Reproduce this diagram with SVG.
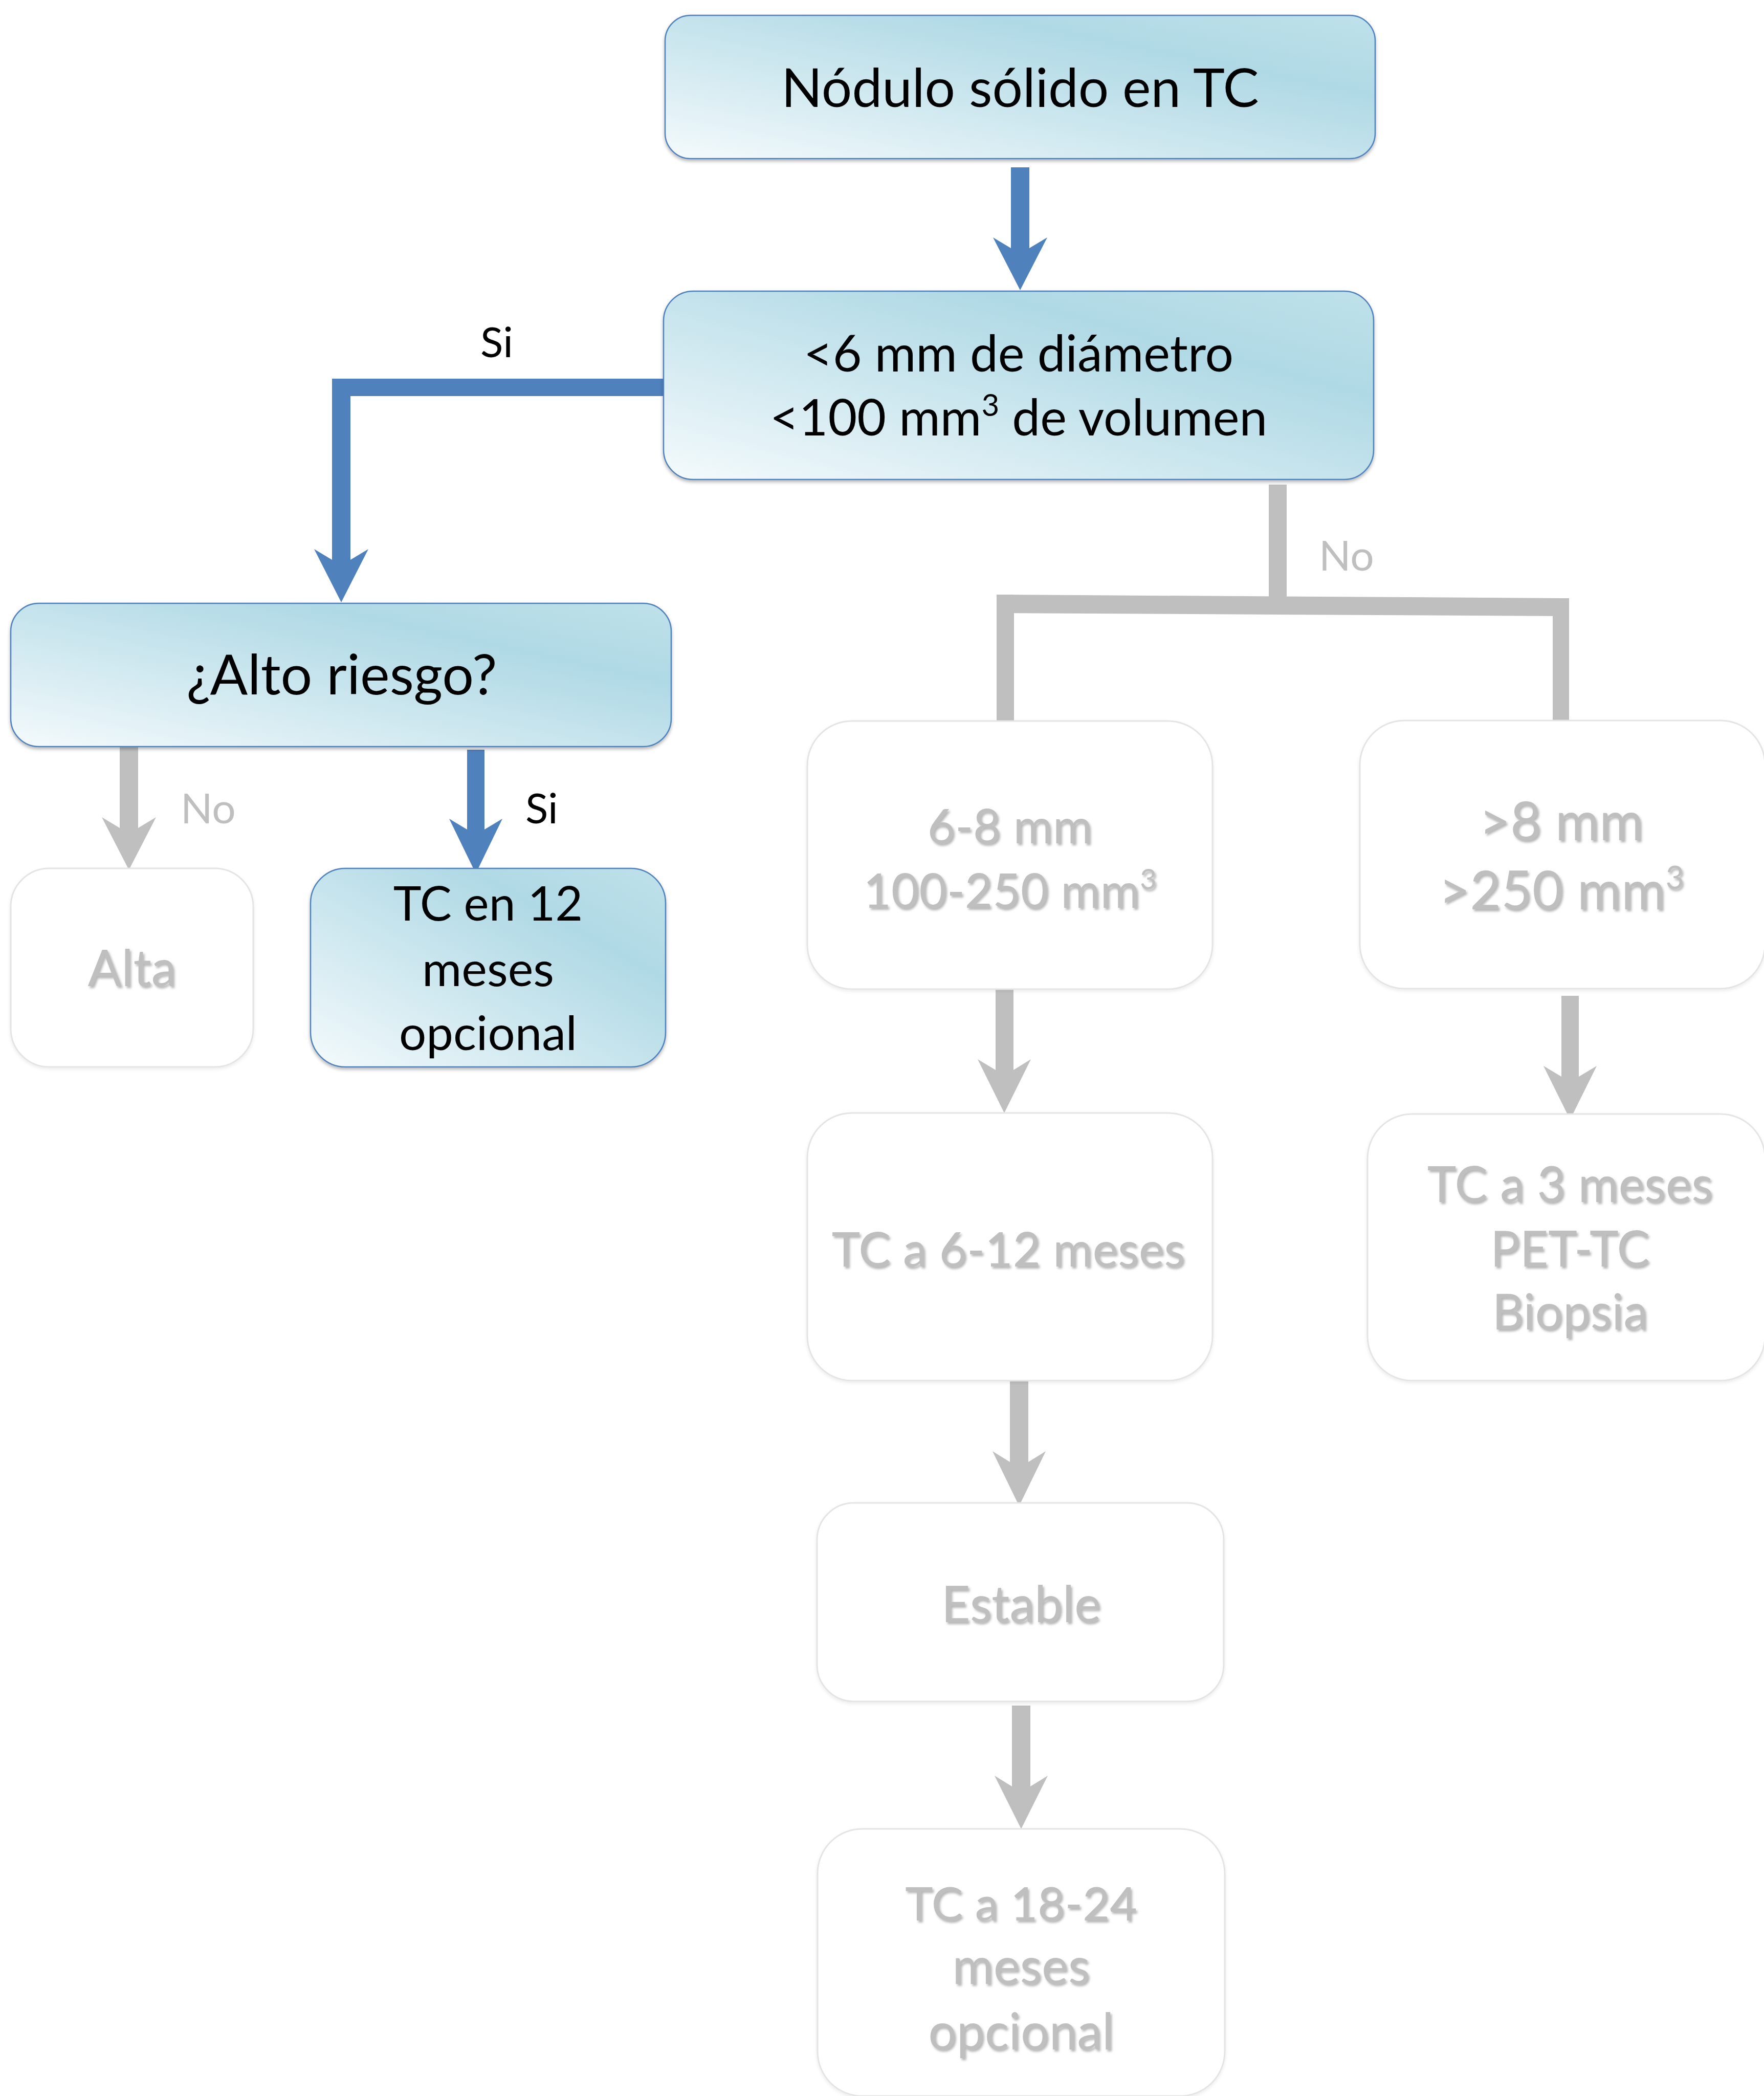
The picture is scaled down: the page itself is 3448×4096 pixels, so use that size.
<svg xmlns="http://www.w3.org/2000/svg" width="3448" height="4096" viewBox="0 0 3448 4096">
  <defs>
    <linearGradient id="blueFill" x1="0" y1="1" x2="1" y2="0">
      <stop offset="0" stop-color="#f4fafc"/>
      <stop offset="0.4" stop-color="#cde7ef"/>
      <stop offset="0.72" stop-color="#afd9e5"/>
      <stop offset="1" stop-color="#bfe1ea"/>
    </linearGradient>
    <filter id="boxShadow" x="-10%" y="-10%" width="120%" height="130%">
      <feDropShadow dx="0" dy="4" stdDeviation="3" flood-color="#000" flood-opacity="0.28"/>
    </filter>
    <filter id="softShadow" x="-10%" y="-10%" width="120%" height="130%">
      <feDropShadow dx="0" dy="3" stdDeviation="3" flood-color="#000" flood-opacity="0.08"/>
    </filter>
    <filter id="textShadow" x="-10%" y="-20%" width="120%" height="150%">
      <feDropShadow dx="3" dy="4" stdDeviation="2" flood-color="#7a7a7a" flood-opacity="0.55"/>
    </filter>
  </defs>
  <style>
    text { font-family: Lato, "Open Sans", "Liberation Sans", sans-serif; }
    .blue-box { fill: url(#blueFill); stroke: #4f81bd; stroke-width: 2.5; filter: url(#boxShadow); }
    .gray-box { fill: #ffffff; stroke: #e4e4e4; stroke-width: 3; filter: url(#softShadow); }
    .dark { fill: #000000; text-anchor: middle; }
    .faded { fill: #bfbfbf; text-anchor: middle; filter: url(#textShadow); }
    .lbl-dark { fill: #000000; font-size: 82px; }
    .lbl-gray { fill: #bfbfbf; font-size: 82px; }
    .blue-line { fill: #4f81bd; }
    .gray-line { fill: #bfbfbf; }
  </style>

  <rect width="3448" height="4096" fill="#ffffff"/>

  <!-- connectors -->
  <g id="connectors">
    <polygon class="blue-line" points="1976,327 2012,327 2012,485 2047,464 1994,567 1941,464 1976,485"/>
    <polygon class="blue-line" points="1300,740 1300,774 685,774 685,1094 720,1073 667,1177 614,1073 649,1094 649,740"/>
    <polygon class="blue-line" points="913,1465 947,1465 947,1621 982,1600 930,1707 878,1600 913,1621"/>
    <polygon class="gray-line" points="234,1460 270,1460 270,1618 305,1597 252,1700 199,1597 234,1618"/>
    <!-- "No" branch: stem, cross bar and two drops -->
    <rect class="gray-line" x="2480" y="947" width="35" height="241"/>
    <polygon class="gray-line" points="1948,1162 3067,1169 3067,1204 1948,1198"/>
    <rect class="gray-line" x="1948" y="1162" width="34" height="247"/>
    <rect class="gray-line" x="3035" y="1169" width="32" height="245"/>
    <polygon class="gray-line" points="1946,1933 1981,1933 1981,2091 2015,2070 1963,2175 1911,2070 1946,2091"/>
    <polygon class="gray-line" points="3052,1946 3086,1946 3086,2104 3121,2083 3069,2188 3017,2083 3052,2104"/>
    <polygon class="gray-line" points="1974,2698 2010,2698 2010,2857 2044,2836 1992,2943 1940,2836 1974,2857"/>
    <polygon class="gray-line" points="1978,3333 2014,3333 2014,3491 2048,3470 1996,3574 1944,3470 1978,3491"/>
    <text class="lbl-dark" x="971" y="698" text-anchor="middle">Si</text>
    <text class="lbl-gray" x="2578" y="1115">No</text>
    <text class="lbl-gray" x="353" y="1609">No</text>
    <text class="lbl-dark" x="1027" y="1609">Si</text>
  </g>

  <g id="node-nodulo">
    <rect class="blue-box" x="1300" y="30" width="1388" height="280" rx="50"/>
    <text class="dark" x="1994" y="209" font-size="105">Nódulo sólido en TC</text>
  </g>

  <g id="node-tamano">
    <rect class="blue-box" x="1297" y="569" width="1388" height="368" rx="58"/>
    <text class="dark" x="1991" y="726" font-size="98">&lt;6 mm de diámetro</text>
    <text class="dark" x="1991" y="851" font-size="98">&lt;100 mm<tspan font-size="60" dy="-38">3</tspan><tspan dy="38"> de volumen</tspan></text>
  </g>

  <g id="node-riesgo">
    <rect class="blue-box" x="21" y="1179" width="1291" height="280" rx="55"/>
    <text class="dark" x="668" y="1357" font-size="109">¿Alto riesgo?</text>
  </g>

  <g id="node-alta">
    <rect class="gray-box" x="21" y="1697" width="474" height="388" rx="75"/>
    <text class="faded" x="258" y="1927" font-size="98">Alta</text>
  </g>

  <g id="node-tc12">
    <rect class="blue-box" x="607" y="1697" width="694" height="388" rx="68"/>
    <text class="dark" x="954" y="1799" font-size="93">TC en 12</text>
    <text class="dark" x="954" y="1927" font-size="94">meses</text>
    <text class="dark" x="954" y="2052" font-size="94">opcional</text>
  </g>

  <g id="node-6-8">
    <rect class="gray-box" x="1578" y="1409" width="792" height="524" rx="87"/>
    <text class="faded" x="1974" y="1648" font-size="94">6-8 mm</text>
    <text class="faded" x="1974" y="1774" font-size="94">100-250 mm<tspan font-size="56" dy="-36">3</tspan></text>
  </g>

  <g id="node-mayor-8">
    <rect class="gray-box" x="2658" y="1408" width="792" height="524" rx="87"/>
    <text class="faded" x="3052" y="1642" font-size="105">&gt;8 mm</text>
    <text class="faded" x="3052" y="1777" font-size="105">&gt;250 mm<tspan font-size="62" dy="-40">3</tspan></text>
  </g>

  <g id="node-tc-6-12">
    <rect class="gray-box" x="1578" y="2175" width="792" height="523" rx="87"/>
    <text class="faded" x="1971" y="2475" font-size="94">TC a 6-12 meses</text>
  </g>

  <g id="node-tc-3">
    <rect class="gray-box" x="2673" y="2177" width="777" height="521" rx="87"/>
    <text class="faded" x="3069" y="2349" font-size="96">TC a 3 meses</text>
    <text class="faded" x="3069" y="2475" font-size="96">PET-TC</text>
    <text class="faded" x="3069" y="2598" font-size="96">Biopsia</text>
  </g>

  <g id="node-estable">
    <rect class="gray-box" x="1597" y="2937" width="795" height="388" rx="72"/>
    <text class="faded" x="1996" y="3170" font-size="98">Estable</text>
  </g>

  <g id="node-tc-18-24">
    <rect class="gray-box" x="1598" y="3574" width="796" height="522" rx="87"/>
    <text class="faded" x="1996" y="3753" font-size="92">TC a 18-24</text>
    <text class="faded" x="1996" y="3877" font-size="98">meses</text>
    <text class="faded" x="1996" y="4005" font-size="98">opcional</text>
  </g>
</svg>
